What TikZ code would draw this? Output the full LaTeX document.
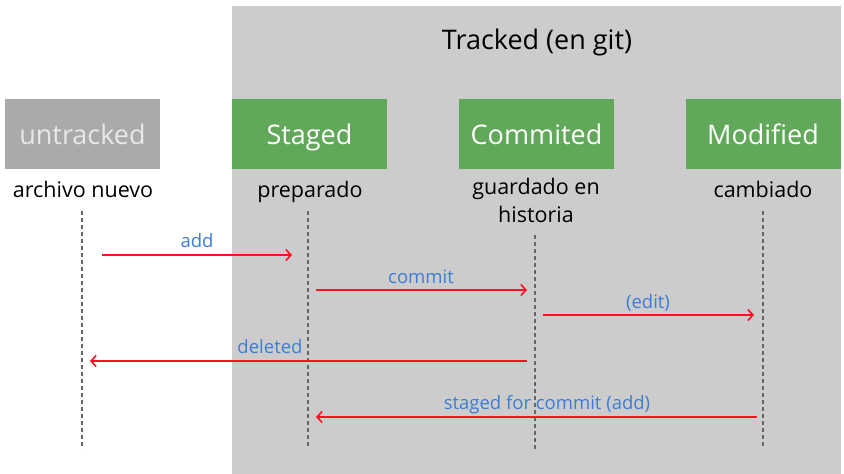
\documentclass[tikz,border=0pt]{standalone}
\usepackage{fontspec}
\setmainfont{Open Sans}
\usetikzlibrary{arrows.meta}
\definecolor{bggray}{HTML}{CCCCCC}
\definecolor{boxgreen}{HTML}{62A85A}
\definecolor{boxgray}{HTML}{AAAAAA}
\definecolor{untxt}{HTML}{E8E8E8}
\definecolor{lblue}{HTML}{3B7DD8}
\definecolor{arrred}{HTML}{FF1020}
\tikzset{
  statebox/.style={minimum width=155pt, minimum height=70pt, inner sep=0pt, text=white, text height=26pt, text depth=6pt, font=\fontsize{27}{30}\selectfont},
  desc/.style={font=\fontsize{21.5}{28}\selectfont, text=black, align=center, inner sep=0pt},
  onedesc/.style={desc, text height=16pt, text depth=6pt},
  lifeline/.style={draw=black!60, line width=1.2pt, dash pattern=on 4pt off 3pt},
  msg/.style={draw=arrred, line width=1.6pt, -{Straight Barb[length=5pt, width=11pt, line width=1.6pt]}},
  msglabel/.style={font=\fontsize{18.5}{22}\selectfont, text=lblue, inner sep=0pt, text height=13pt, text depth=4pt}
}
\begin{document}
\begin{tikzpicture}[x=1pt, y=-1pt]
\useasboundingbox (0,0) rectangle (844,474);
\fill[white] (0,0) rectangle (844,474);
\fill[bggray] (232,6) rectangle (841,474);
\node[font=\fontsize{27}{30}\selectfont, inner sep=0pt] (title) at (537,42) {Tracked (en git)};

\node[statebox, fill=boxgray, text=untxt] (untr) at (82.5,134) {untracked};
\node[statebox, fill=boxgreen] (staged) at (309.5,134) {Staged};
\node[statebox, fill=boxgreen] (commited) at (536.5,134) {Commited};
\node[statebox, fill=boxgreen] (modified) at (763,134) {Modified};

\node[onedesc] (d1) at (83,192) {archivo nuevo};
\node[onedesc] (d2) at (310,192) {preparado};
\node[desc] (d3) at (536,200) {guardado en\\historia};
\node[onedesc] (d4) at (763,192) {cambiado};

\coordinate (l1t) at (82,211); \coordinate (l1b) at (82,449);
\coordinate (l2t) at (308,211); \coordinate (l2b) at (308,449);
\coordinate (l3t) at (535,235); \coordinate (l3b) at (535,449);
\coordinate (l4t) at (763,211); \coordinate (l4b) at (763,449);
\draw[lifeline] (l1t) -- (l1b);
\draw[lifeline] (l2t) -- (l2b);
\draw[lifeline] (l3t) -- (l3b);
\draw[lifeline] (l4t) -- (l4b);

\coordinate (a1s) at (102,255); \coordinate (a1e) at (292,255);
\coordinate (a2s) at (316,290); \coordinate (a2e) at (527,290);
\coordinate (a3s) at (543,315); \coordinate (a3e) at (754,315);
\coordinate (a4s) at (527,361); \coordinate (a4e) at (90,361);
\coordinate (a5s) at (757,417); \coordinate (a5e) at (316,417);
\draw[msg] (a1s) -- (a1e);
\draw[msg] (a2s) -- (a2e);
\draw[msg] (a3s) -- (a3e);
\draw[msg] (a4s) -- (a4e);
\draw[msg] (a5s) -- (a5e);

\node[msglabel] (t1) at (197,242.5) {add};
\node[msglabel] (t2) at (421,278.5) {commit};
\node[msglabel] (t3) at (648,303.5) {(edit)};
\node[msglabel] (t4) at (270,348.5) {deleted};
\node[msglabel] (t5) at (547,404.5) {staged for commit (add)};
\end{tikzpicture}
\end{document}
